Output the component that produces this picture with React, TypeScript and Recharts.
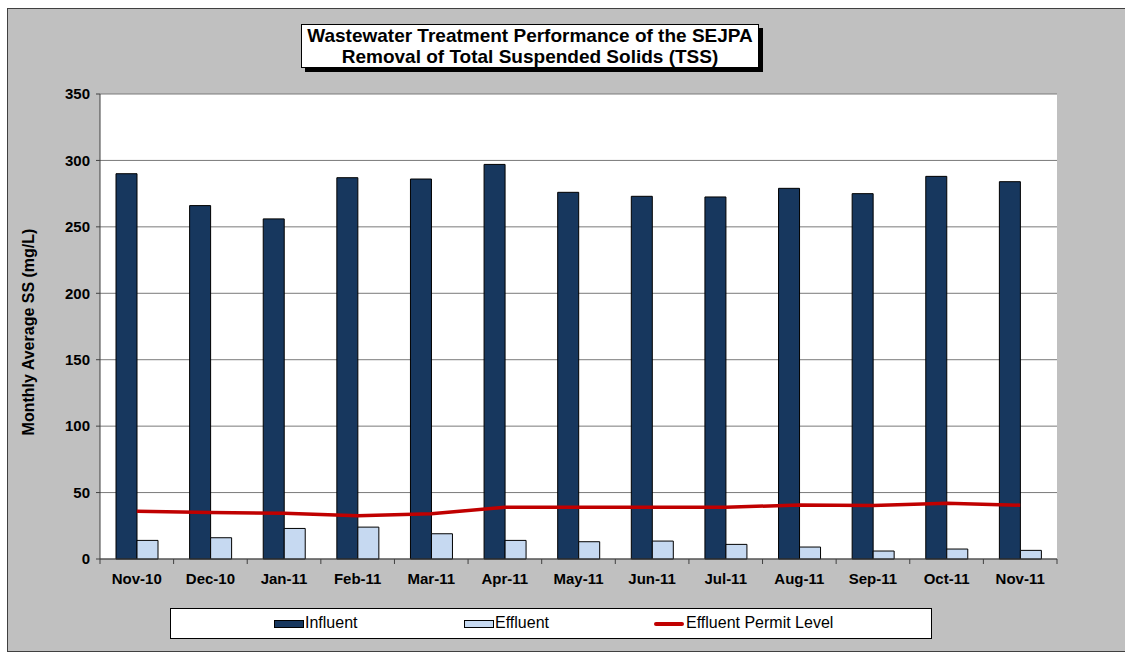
import React from "react";
import { ComposedChart, Bar, Line, XAxis, YAxis, CartesianGrid, Label } from "recharts";

const categories = ["Nov-10", "Dec-10", "Jan-11", "Feb-11", "Mar-11", "Apr-11", "May-11", "Jun-11", "Jul-11", "Aug-11", "Sep-11", "Oct-11", "Nov-11"];
const influent = [290, 266, 256, 287, 286, 297, 276, 273, 272.5, 279, 275, 288, 284];
const effluent = [14, 16, 23, 24, 19, 14, 13, 13.5, 11, 9, 6, 7.5, 6.5];
const permitLevel = [36, 35, 34.5, 32.5, 34, 39, 39, 39, 39, 40.6, 40.2, 42, 40.5];
const yTicks = [0, 50, 100, 150, 200, 250, 300, 350];
const seriesNames = { influent: "Influent", effluent: "Effluent", permit: "Effluent Permit Level" };
const titleLines = ["Wastewater Treatment Performance of the SEJPA", "Removal of Total Suspended Solids (TSS)"];
const yAxisTitle = "Monthly Average SS (mg/L)";

const data = categories.map((c, i) => ({
  month: c,
  influent: influent[i],
  effluent: effluent[i],
  permit: permitLevel[i],
}));

const COLORS = { influent: "#17375E", effluent: "#C6D9F1", permit: "#C00000" };
const FONT = "'Liberation Sans', Arial, sans-serif";
const W = 1125;
const H = 654;
const M = { top: 94, right: 68, left: 40, bottom: 65 };
const YW = 60;
const PLOT_W = W - M.left - M.right - YW;
const BAND = PLOT_W / categories.length;

const XTick = (props: any) => {
  const { x, y, payload, index } = props;
  return (
    <g>
      <line x1={x - BAND / 2} y1={y} x2={x - BAND / 2} y2={y + 5} stroke="#404040" strokeWidth={1} />
      {index === categories.length - 1 && (
        <line x1={x + BAND / 2} y1={y} x2={x + BAND / 2} y2={y + 5} stroke="#404040" strokeWidth={1} />
      )}
      <text x={x} y={y + 25} textAnchor="middle" fontFamily={FONT} fontSize={15} fontWeight="bold" fill="#000">
        {payload.value}
      </text>
    </g>
  );
};

export default function App() {
  return (
    <div style={{ position: "relative", width: W, height: H, background: "#fff", overflow: "hidden", fontFamily: FONT }}>
      <style>{`body{margin:0;overflow:hidden;}`}</style>
      <div
        style={{
          position: "absolute",
          left: 7,
          top: 8,
          width: W - 7,
          height: 644,
          background: "#C0C0C0",
          borderLeft: "1px solid #404040",
          borderTop: "1px solid #404040",
          borderBottom: "1px solid #404040",
          boxSizing: "border-box",
        }}
      />
      <div style={{ position: "absolute", left: 0, top: 0 }}>
        <ComposedChart width={W} height={H} data={data} margin={M} barGap={0} barSize={21}>
          <CartesianGrid vertical={false} stroke="#7a7a7a" strokeWidth={1} fill="#ffffff" fillOpacity={1} />
          <XAxis
            dataKey="month"
            height={30}
            tickSize={0}
            tickMargin={0}
            tickLine={false}
            axisLine={{ stroke: "#404040", strokeWidth: 1 }}
            tick={<XTick />}
            interval={0}
          />
          <YAxis
            width={YW}
            domain={[0, 350]}
            ticks={yTicks}
            interval={0}
            tickSize={4}
            tickMargin={6}
            axisLine={{ stroke: "#404040", strokeWidth: 1 }}
            tickLine={{ stroke: "#404040", strokeWidth: 1 }}
            tick={{ fontFamily: FONT, fontSize: 15, fontWeight: "bold", fill: "#000" }}
          >
            <Label
              content={() => (
                <text
                  x={34}
                  y={332}
                  transform="rotate(-90 34 332)"
                  textAnchor="middle"
                  fontFamily={FONT}
                  fontSize={16}
                  fontWeight="bold"
                  fill="#000"
                >
                  {yAxisTitle}
                </text>
              )}
            />
          </YAxis>
          <Bar dataKey="influent" name={seriesNames.influent} fill={COLORS.influent} stroke="#000" strokeWidth={1} isAnimationActive={false} />
          <Bar dataKey="effluent" name={seriesNames.effluent} fill={COLORS.effluent} stroke="#000" strokeWidth={1} isAnimationActive={false} />
          <Line
            type="linear"
            dataKey="permit"
            name={seriesNames.permit}
            stroke={COLORS.permit}
            strokeWidth={3.5}
            dot={false}
            activeDot={false}
            isAnimationActive={false}
          />
        </ComposedChart>
      </div>
      <div
        style={{
          position: "absolute",
          left: 301,
          top: 24,
          width: 458,
          height: 44,
          background: "#fff",
          border: "1px solid #000",
          boxShadow: "4px 4px 0 #000",
          boxSizing: "border-box",
          textAlign: "center",
          fontWeight: "bold",
          fontSize: 19,
          lineHeight: "21px",
          paddingTop: 0,
          color: "#000",
        }}
      >
        <div>{titleLines[0]}</div>
        <div>{titleLines[1]}</div>
      </div>
      <div
        style={{
          position: "absolute",
          left: 170,
          top: 608,
          width: 762,
          height: 31,
          background: "#fff",
          border: "1px solid #000",
          boxSizing: "border-box",
          fontSize: 16,
          color: "#000",
        }}
      >
        <div style={{ position: "absolute", left: 103, top: 11, width: 30, height: 8, background: COLORS.influent, border: "1px solid #000", boxSizing: "border-box" }} />
        <div style={{ position: "absolute", left: 134, top: 5, lineHeight: "18px" }}>{seriesNames.influent}</div>
        <div style={{ position: "absolute", left: 293, top: 11, width: 30, height: 8, background: COLORS.effluent, border: "1px solid #000", boxSizing: "border-box" }} />
        <div style={{ position: "absolute", left: 324, top: 5, lineHeight: "18px" }}>{seriesNames.effluent}</div>
        <div style={{ position: "absolute", left: 483, top: 13, width: 30, height: 4, background: COLORS.permit, borderRadius: 2 }} />
        <div style={{ position: "absolute", left: 515, top: 5, lineHeight: "18px" }}>{seriesNames.permit}</div>
      </div>
    </div>
  );
}
